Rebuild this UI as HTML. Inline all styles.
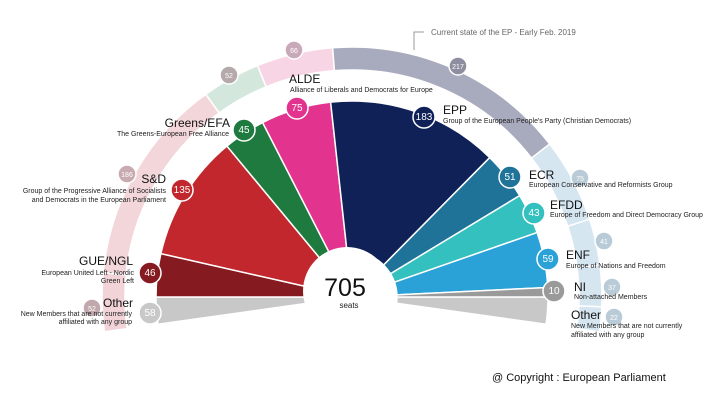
<!DOCTYPE html>
<html><head><meta charset="utf-8"><style>
html,body{margin:0;padding:0;background:#fff;}
svg{display:block;font-family:"Liberation Sans",Arial,sans-serif;}
</style></head><body>
<svg id="s" width="727" height="407" viewBox="0 0 727 407" xmlns="http://www.w3.org/2000/svg">
<g id="g"></g>
<polyline points="414,50 414,32 424,32" fill="none" stroke="#999" stroke-width="1"/>
<text x="431" y="35" font-size="8" fill="#666">Current state of the EP - Early Feb. 2019</text>
<circle cx="347" cy="291" r="44" fill="#fff"/>
<text x="345" y="296" font-size="25" text-anchor="middle" fill="#111">705</text>
<text x="349" y="308" font-size="8" text-anchor="middle" fill="#222">seats</text>
<g id="circ"></g>
<g font-size="12" fill="#111">
<text x="289" y="83">ALDE</text>
<text x="230" y="127" text-anchor="end">Greens/EFA</text>
<text x="166" y="183" text-anchor="end">S&amp;D</text>
<text x="133" y="265" text-anchor="end">GUE/NGL</text>
<text x="133" y="307" text-anchor="end">Other</text>
<text x="443" y="114">EPP</text>
<text x="529" y="179">ECR</text>
<text x="550" y="209">EFDD</text>
<text x="566" y="259">ENF</text>
<text x="574" y="291">NI</text>
<text x="571" y="319">Other</text>
</g>
<g font-size="7" fill="#222">
<text x="290" y="92">Alliance of Liberals and Democrats for Europe</text>
<text x="229" y="136" text-anchor="end">The Greens-European Free Alliance</text>
<text x="166" y="193" text-anchor="end">Group of the Progressive Alliance of Socialists</text>
<text x="166" y="202" text-anchor="end">and Democrats in the European Parliament</text>
<text x="134" y="275" text-anchor="end">European United Left - Nordic</text>
<text x="134" y="283" text-anchor="end">Green Left</text>
<text x="132" y="316" text-anchor="end">New Members that are not currently</text>
<text x="132" y="324" text-anchor="end">affiliated with any group</text>
<text x="443" y="123">Group of the European People's Party (Christian Democrats)</text>
<text x="529" y="187">European Conservative and Reformists Group</text>
<text x="550" y="217">Europe of Freedom and Direct Democracy Group</text>
<text x="566" y="268">Europe of Nations and Freedom</text>
<text x="574" y="299">Non-attached Members</text>
<text x="571" y="328">New Members that are not currently</text>
<text x="571" y="337">affiliated with any group</text>
</g>
<text x="492" y="381" font-size="11" fill="#111">@ Copyright : European Parliament</text>
</svg>
<script>
var cx=352,cy=297,g=document.getElementById('g'),gc=document.getElementById('circ'),NS='http://www.w3.org/2000/svg';
function pt(r,a){a=a*Math.PI/180;return [cx+r*Math.cos(a),cy-r*Math.sin(a)];}
function sec(r0,r1,a0,a1,col){var p0=pt(r1,a0),p1=pt(r1,a1),p2=pt(r0,a1),p3=pt(r0,a0);
var d='M'+p0+' A'+r1+','+r1+' 0 0 0 '+p1+' L'+p2+' A'+r0+','+r0+' 0 0 1 '+p3+'Z';
var e=document.createElementNS(NS,'path');e.setAttribute('d',d);e.setAttribute('fill',col);e.setAttribute('stroke','#fff');e.setAttribute('stroke-width','1.5');g.appendChild(e);}
function circ(x,y,r,col,t){var c=document.createElementNS(NS,'circle');c.setAttribute('cx',x);c.setAttribute('cy',y);c.setAttribute('r',r);c.setAttribute('fill',col);c.setAttribute('stroke','#fff');c.setAttribute('stroke-width','1.5');gc.appendChild(c);
var tx=document.createElementNS(NS,'text');tx.setAttribute('x',x);tx.setAttribute('y',y+3);tx.setAttribute('text-anchor','middle');tx.setAttribute('font-size',r>10?'10':'7');tx.setAttribute('fill','#fff');tx.textContent=t;gc.appendChild(tx);}
var ring=[[52,'#f1d3d8'],[186,'#f3d6da'],[52,'#d4e7dc'],[68,'#f8d5e5'],[217,'#a8aabd'],[75,'#d5e6f1'],[41,'#d5e6f1'],[37,'#d5e6f1'],[22,'#d5e6f1']];
var a=188,k=196/750;ring.forEach(function(s){var b=a-s[0]*k;sec(227,250,b,a,s[1]);a=b;});
sec(45,196,180,188,'#c8c8c8');sec(45,196,-8,0,'#c8c8c8');
var main=[[46,'#851b20'],[135,'#c1272d'],[45,'#1f7a3f'],[75,'#e2338e'],[183,'#0f2157'],[51,'#1f7399'],[43,'#34c0be'],[59,'#2aa2d8'],[10,'#9a9a9a']];
a=180;k=180/647;main.forEach(function(s){var b=a-s[0]*k;sec(45,196,b,a,s[1]);a=b;});
[[229,75,'52','#b5a9ab'],[294,50,'66','#c9a9b9'],[458,66,'217','#8d8fa1'],[127,174,'186','#c8abb0'],[92,308,'52','#c0a8ac'],[580,178,'75','#b9cbd6'],[604,241,'41','#b9cbd6'],[612,287,'37','#b9cbd6'],[614,317,'22','#b9cbd6']].forEach(function(c){circ(c[0],c[1],9,c[3],c[2]);});
[[244,130,'45','#1f7a3f'],[297,108,'75','#e2338e'],[424,117,'183','#0f2157'],[510,177,'51','#1f7399'],[534,213,'43','#34c0be'],[548,259,'59','#2aa2d8'],[554,291,'10','#9a9a9a'],[150,273,'46','#851b20'],[182,190,'135','#c1272d'],[150,313,'58','#c8c8c8']].forEach(function(c){circ(c[0],c[1],11,c[3],c[2]);});
</script>
</body></html>
